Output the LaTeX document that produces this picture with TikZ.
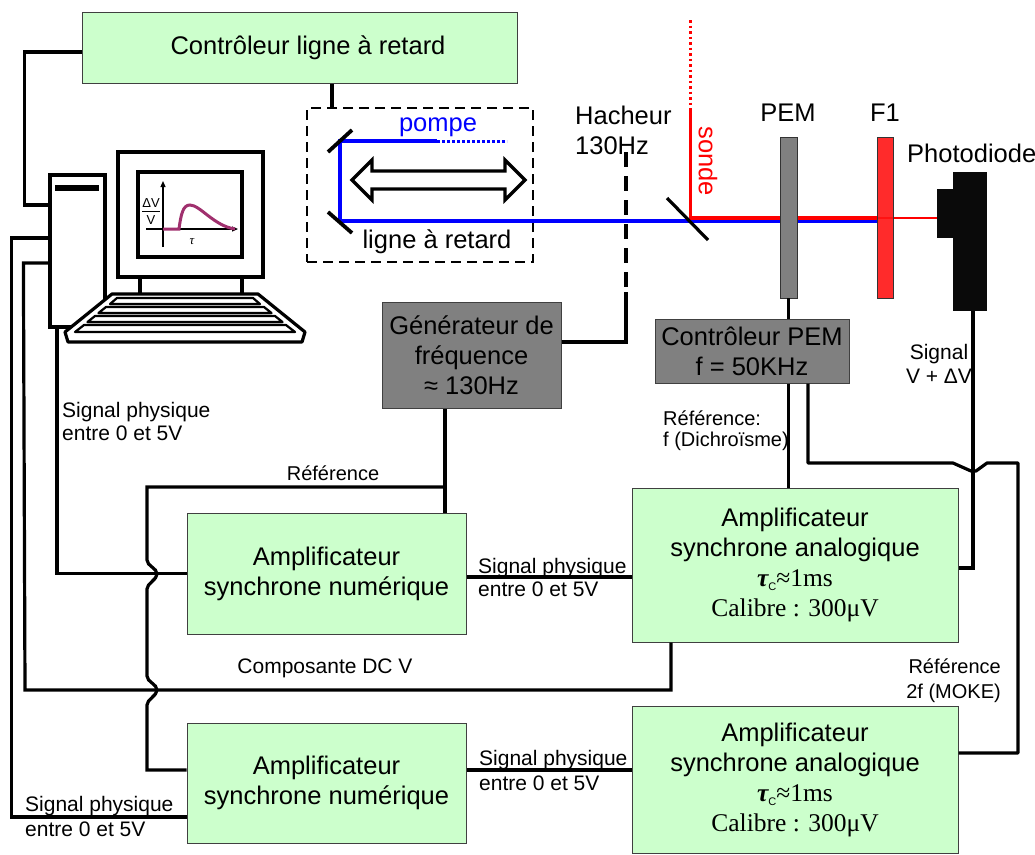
\documentclass[tikz,border=0pt]{standalone}
\usepackage{fontspec}
\setmainfont{Liberation Sans}
\newfontfamily\seriffont{Liberation Serif}
\usetikzlibrary{arrows.meta,calc}

\definecolor{boxgreen}{RGB}{204,255,204}
\definecolor{unitgray}{RGB}{128,128,128}
\definecolor{pumpblue}{RGB}{0,0,255}
\definecolor{probered}{RGB}{255,0,0}
\definecolor{filterred}{RGB}{255,20,20}
\definecolor{curvepurple}{RGB}{160,48,110}

\tikzset{
  bigtext/.style={font=\fontsize{25.5}{30}\selectfont},
  smalltext/.style={font=\fontsize{21}{23}\selectfont},
  unit/.style={draw=black!75, line width=1pt, inner sep=0pt, align=center, bigtext},
  greenunit/.style={unit, fill=boxgreen},
  grayunit/.style={unit, fill=unitgray},
  wire/.style={line width=3.2pt},
  note/.style={inner sep=0pt, smalltext},
  optic/.style={inner sep=0pt, bigtext},
  beam/.style={line width=3.8pt},
  pcline/.style={line width=3.2pt},
}

\begin{document}
\begin{tikzpicture}[x=1pt,y=-1pt]
\fill[white] (0,0) rectangle (1035,854);
\useasboundingbox (0,0) rectangle (1035,854);

% ---------- electronic units ----------
\node[greenunit, minimum width=435, minimum height=71] (ctl) at (299.5,47.5)
  {\hspace*{17pt}Contrôleur ligne à retard};
\node[grayunit, minimum width=179, minimum height=106] (gen) at (471.5,355)
  {Générateur de\\fréquence\\≈ 130Hz};
\node[grayunit, minimum width=194, minimum height=64] (pemctl) at (752,351)
  {Contrôleur PEM\\f = 50KHz};
\node[greenunit, minimum width=279, minimum height=121] (amp1) at (326.5,573.5)
  {Amplificateur\\synchrone numérique};
\node[greenunit, minimum width=279, minimum height=120] (amp2) at (326.5,783)
  {Amplificateur\\synchrone numérique};
\node[greenunit, minimum width=326, minimum height=154] (ana1) at (795,565)
  {Amplificateur\\synchrone analogique\\
   {\seriffont\bfseries\itshape τ}\raisebox{-4pt}{\fontsize{11}{11}\selectfont C}{\seriffont ≈1ms}\\
   {\seriffont Calibre : 300μV}};
\node[greenunit, minimum width=326, minimum height=147] (ana2) at (795,779.5)
  {Amplificateur\\synchrone analogique\\
   {\seriffont\bfseries\itshape τ}\raisebox{-4pt}{\fontsize{11}{11}\selectfont C}{\seriffont ≈1ms}\\
   {\seriffont Calibre : 300μV}};

% ---------- computer ----------
\node[draw, pcline, fill=white, minimum width=55, minimum height=152, inner sep=0pt] (tower) at (77.5,251) {};
\fill (55,185) rectangle (99,191);
\draw[pcline, fill=white] (118,152) rectangle (263,277);
\draw[pcline] (138,172) rectangle (242,257);
\draw[pcline] (140,277) -- (140,294) (242,277) -- (242,294);
% keyboard
\draw[pcline, fill=white, line join=round]
  (112,294) -- (258,294) -- (305,332) -- (302,342) -- (68,342) -- (65,332) -- cycle;
\draw[line width=2.2pt, line join=round]
  (117,298) -- (253,298) -- (260,304) -- (110,304) -- cycle
  (106,307) -- (264,307) -- (271.5,313) -- (98.5,313) -- cycle
  (95,316) -- (275,316) -- (282.5,322) -- (87.5,322) -- cycle
  (84,325) -- (286,325) -- (295,332) -- (75,332) -- cycle;
% plot on the screen
\draw[line width=1.2pt, -{Triangle[length=6pt,width=5pt]}] (163,247) -- (163,181);
\draw[line width=1.2pt, -{Triangle[length=6pt,width=5pt]}] (146,229) -- (238,229);
\draw[curvepurple, line width=3pt] (163,229) -- (179,229)
  .. controls (181,214) and (183,205) .. (190,205)
  .. controls (200,205) and (214,226) .. (235,229);
\node[inner sep=0pt, font=\fontsize{13}{13}\selectfont] (dvtop) at (151,203) {ΔV};
\node[inner sep=0pt, font=\fontsize{13}{13}\selectfont] (dvbot) at (151,220) {V};
\draw[line width=0.8pt] (142,211.5) -- (160,211.5);
\node[inner sep=0pt, font=\seriffont\itshape\fontsize{13}{13}\selectfont] (tau) at (192,242) {τ};

% ---------- delay line ----------
\node[draw, line width=2.7pt, dash pattern=on 10pt off 6pt, minimum width=226, minimum height=154, inner sep=0pt] (delay) at (420,185) {};
\draw[pumpblue, beam] (437,141) -- (340,141) -- (340,221) -- (877,221);
\draw[pumpblue, line width=3pt, dash pattern=on 2.5pt off 2.5pt] (437,141) -- (507,141);
\draw[line width=3.8pt] (328,152) -- (352,130);
\draw[line width=3.8pt] (328,212) -- (352,233);
\draw[line width=3.2pt, fill=white, line join=miter]
  (352,180) -- (372,160) -- (372,171) -- (505,171) -- (505,160) -- (525,180)
  -- (505,200) -- (505,189) -- (372,189) -- (372,200) -- cycle;
\node[optic, text=pumpblue] (pompe) at (438,127) {pompe};
\node[optic] (dlabel) at (437,242) {ligne à retard};

% ---------- probe beam and optics ----------
\draw[probered, line width=3pt, dash pattern=on 2.5pt off 3pt] (690,20) -- (690,108);
\draw[probered, line width=3pt] (690,108) -- (690,218);
\draw[probered, beam] (689,218) -- (877,218);
\draw[probered, line width=2.4pt] (877,218) -- (937,218);
\node[optic, text=probered, rotate=-90] (sonde) at (708,161) {sonde};
\draw[line width=3.2pt] (667,198) -- (708,240);

\coordinate (chopbot) at (626,292);
\draw[line width=4.2pt, dash pattern=on 15pt off 9pt] (626,152) -- (chopbot);
\node[optic, align=left, anchor=west] (hacheur) at (575,130) {Hacheur\\130Hz};

\node[draw=black!80, line width=0.9pt, fill=unitgray, minimum width=17, minimum height=161, inner sep=0pt] (pem) at (788.5,217.5) {};
\node[optic] (pemlabel) at (788,113) {PEM};
\node[draw=black!80, line width=0.9pt, fill=filterred, fill opacity=0.9, minimum width=16, minimum height=161, inner sep=0pt] (filter) at (885,217.5) {};
\node[optic] (f1label) at (885,113) {F1};
\fill[black!96] (937,189) rectangle (953,238);
\node[fill=black!96, minimum width=34, minimum height=139, inner sep=0pt] (pd) at (970,241.5) {};
\node[optic, anchor=west] (pdlabel) at (907,153) {Photodiode};

% ---------- connections ----------
\draw[wire] ([yshift=-4.5pt]ctl.west) -- ++(-57,0) |- ([yshift=46pt]tower.west);
\draw[wire] ([xshift=32.5pt]ctl.south) coordinate (c1) -- (c1 |- delay.north);
\draw[wire] ([yshift=13pt]tower.west) -- ++(-37,0) |- ([yshift=-34pt]amp2.west);
\draw[wire] ([yshift=-12pt]tower.west) -- ++(-25,0) -- (25,690) -| ([xshift=-124pt]ana1.south);
\draw[wire] ([xshift=-20.5pt]tower.south) |- (amp1.west);

\draw[wire] ([yshift=13pt]gen.east) -| (chopbot);
\draw[wire] ([xshift=-26.5pt]gen.south) coordinate (g0) -- (g0 |- amp1.north);
\draw[wire] (445,487) -- (147,487) -- (147,560)
  .. controls (147,566) and (157,568) .. (157,574)
  .. controls (157,580) and (147,583) .. (147,589)
  -- (147,676)
  .. controls (147,682) and (157,684) .. (157,690)
  .. controls (157,696) and (147,699) .. (147,705)
  -- (147,770) -- ([yshift=13pt]amp2.west);

\draw[wire] ([yshift=-3.5pt]amp1.east) coordinate (s1) -- (s1 -| ana1.west);
\draw[wire] ([yshift=13pt]amp2.east) coordinate (s2) -- (s2 -| ana2.west);

\draw[wire] (pem.south) -- (pem.south |- pemctl.north);
\draw[wire] (pem.south |- pemctl.south) -- (pem.south |- ana1.north);
\draw[wire, line join=round] ([xshift=56pt]pemctl.south) -- (808,463) -- (953,463) -- (971,471)
  -- (976,471) -- (987,463) -- (1018,463) |- ([yshift=26.5pt]ana2.east);
\draw[wire] ([xshift=3pt]pd.south) |- ([yshift=-3pt]ana1.east);

% ---------- labels ----------
\node[note, align=left, anchor=west] (lab1) at (62,421) {Signal physique\\entre 0 et 5V};
\node[note, align=left, anchor=west, font=\fontsize{21}{25}\selectfont] (lab2) at (25,816) {Signal physique\\entre 0 et 5V};
\node[note, align=left, anchor=west] (lab3) at (478,577) {Signal physique\\entre 0 et 5V};
\node[note, align=left, anchor=west, font=\fontsize{21}{25}\selectfont] (lab4) at (479,770) {Signal physique\\entre 0 et 5V};
\node[note, font=\fontsize{20}{23}\selectfont] (labref) at (333,473) {Référence};
\node[note] (labdc) at (325,668) {Composante DC V};
\node[note, align=left, anchor=west, font=\fontsize{20}{21}\selectfont] (labf) at (663,431) {Référence:\\f (Dichroïsme)};
\node[note, align=right, anchor=east, font=\fontsize{20}{25}\selectfont] (lab2f) at (1001,681) {Référence\\2f (MOKE)};
\node[note, align=center, font=\fontsize{21}{24}\selectfont] (labsig) at (939,364) {Signal\\V + ΔV};
\end{tikzpicture}
\end{document}
